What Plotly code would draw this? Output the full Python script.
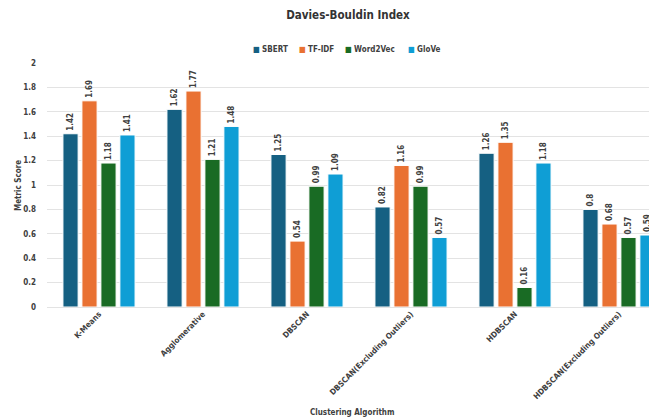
import plotly.graph_objects as go

categories = ["K-Means", "Agglomerative", "DBSCAN", "DBSCAN(Excluding Outliers)", "HDBSCAN", "HDBSCAN(Excluding Outliers)"]
sbert = [1.42, 1.62, 1.25, 0.82, 1.26, 0.8]
tfidf = [1.69, 1.77, 0.54, 1.16, 1.35, 0.68]
word2vec = [1.18, 1.21, 0.99, 0.99, 0.16, 0.57]
glove = [1.41, 1.48, 1.09, 0.57, 1.18, 0.59]
series_names = ["SBERT", "TF-IDF", "Word2Vec", "GloVe"]
colors = ["#156082", "#E97132", "#196B24", "#0F9ED5"]

FONT = "DejaVu Sans Condensed, Liberation Sans Narrow, Arial Narrow, sans-serif"
W, H = 649, 418
L, R, T, B = 47, 0, 63, 111
PW, PH = W - L - R, H - T - B

fig = go.Figure()
for name, vals, col in zip(series_names, [sbert, tfidf, word2vec, glove], colors):
    fig.add_trace(go.Bar(
        name=name, x=list(range(len(categories))), y=vals,
        marker=dict(color=col, line=dict(color="white", width=1)),
        text=[f"<b>{v:g}</b>" for v in vals],
        textposition="outside", textangle=-90, constraintext="none",
        textfont=dict(family=FONT, size=8, color="#404040"),
        cliponaxis=False, showlegend=False,
    ))

# custom compact legend (as in reference)
legend_x = [251, 297, 343, 406]
annotations = []
for name, col, lx in zip(series_names, colors, legend_x):
    annotations.append(dict(
        text=f"<span style='color:{col}'>■</span> <b>{name}</b>",
        xref="paper", yref="paper", x=(lx - L) / PW, y=(H - B - 49) / PH,
        xanchor="left", yanchor="middle", showarrow=False,
        font=dict(family=FONT, size=8, color="#404040")))

annotations.append(dict(text="<b>Clustering Algorithm</b>", xref="paper", yref="paper",
                        x=(352 - L) / PW, y=(H - B - 412) / PH,
                        showarrow=False, xanchor="center", yanchor="middle",
                        font=dict(family=FONT, size=8, color="#404040")))
annotations.append(dict(text="<b>Metric Score</b>", xref="paper", yref="paper",
                        x=(18 - L) / PW, y=0.5, textangle=-90,
                        showarrow=False, xanchor="center", yanchor="middle",
                        font=dict(family=FONT, size=8, color="#404040")))

yt = [0, 0.2, 0.4, 0.6, 0.8, 1, 1.2, 1.4, 1.6, 1.8, 2]
fig.update_layout(
    width=W, height=H,
    margin=dict(l=L, r=R, t=T, b=B),
    barmode="group", bargap=0.27, bargroupgap=0.2,
    plot_bgcolor="white", paper_bgcolor="white",
    font=dict(family=FONT, size=8, color="#404040"),
    title=dict(text="<b>Davies-Bouldin Index</b>", x=348 / W, xref="container", xanchor="center",
               y=1 - 15 / H, yref="container", yanchor="middle",
               font=dict(family=FONT, size=11.5, color="#333333")),
    showlegend=False,
    xaxis=dict(tickmode="array", tickvals=list(range(len(categories))),
               ticktext=[f"<b>{c}</b>" for c in categories],
               tickangle=-45, range=[-0.5, (W - 99) / 104],
               showgrid=False, showline=False, ticks="", zeroline=False,
               tickfont=dict(family=FONT, size=8, color="#404040")),
    yaxis=dict(range=[0, 2], tickvals=yt, ticktext=[f"<b>{v:g}</b>" for v in yt],
               showgrid=True, gridcolor="#e3e3e3", gridwidth=1, zeroline=True,
               zerolinecolor="#e3e3e3", zerolinewidth=1,
               tickfont=dict(family=FONT, size=8, color="#404040"), ticklabelstandoff=10),
    annotations=annotations,
)

fig.write_html("out.html")
